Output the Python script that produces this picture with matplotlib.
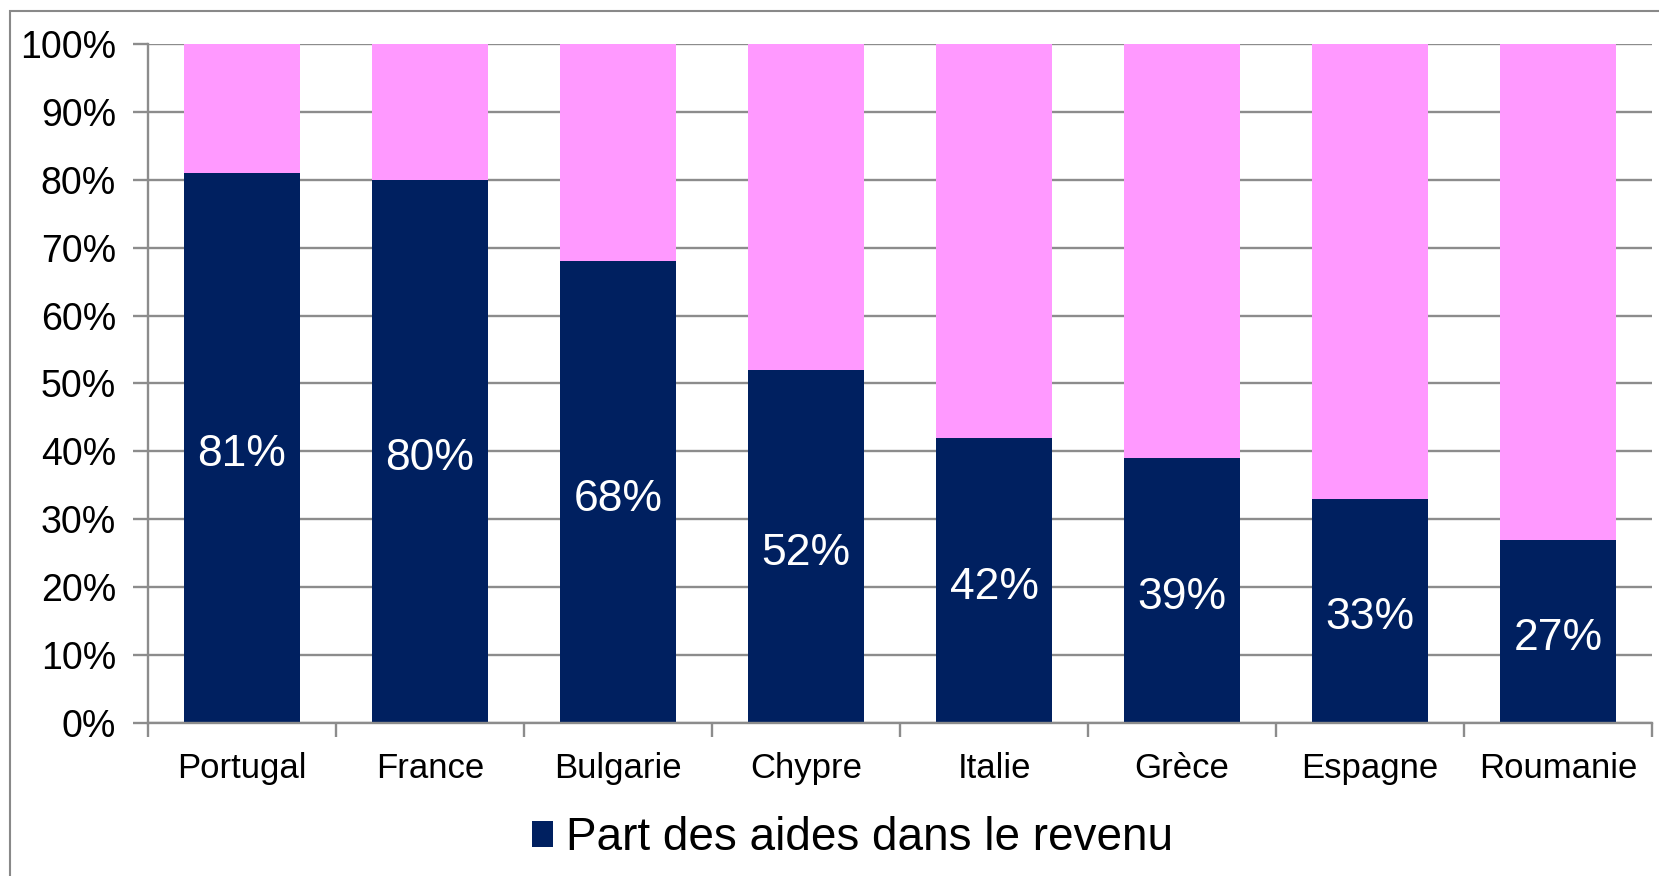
import matplotlib
matplotlib.use('Agg')
import matplotlib.pyplot as plt
from matplotlib.patches import Rectangle
import numpy as np

plt.rcParams['font.family'] = ['Liberation Sans', 'DejaVu Sans']

pays = ["Portugal", "France", "Bulgarie", "Chypre", "Italie", "Grèce", "Espagne", "Roumanie"]
part_aides = [81, 80, 68, 52, 42, 39, 33, 27]
reste = [100 - v for v in part_aides]
yticks = [0, 10, 20, 30, 40, 50, 60, 70, 80, 90, 100]

navy = '#002060'
rose = '#FF99FF'
gris = '#8c8c8c'

fig = plt.figure(figsize=(16.59, 8.76), dpi=100)
ax = fig.add_axes([0.0892, 0.1747, 0.9066, 0.7751])

# cadre gris autour du graphique
fig.patches.append(Rectangle((0.006, -0.1), 1.2, 1.0874, transform=fig.transFigure,
                             fill=False, edgecolor='#898989', linewidth=1.5))

x = np.arange(len(pays))
b1 = ax.bar(x, part_aides, width=0.615, color=navy, zorder=3,
            label="Part des aides dans le revenu")
ax.bar(x, reste, width=0.615, bottom=part_aides, color=rose, zorder=3)

for xi, v in zip(x, part_aides):
    ax.annotate(f"{v}%", (xi, v / 2), xytext=(0, -5), textcoords='offset points',
                ha='center', va='center', color='white', fontsize=32, zorder=4)

ax.set_xlim(-0.5, len(pays) - 0.5)
ax.set_ylim(0, 100)
ax.set_yticks(yticks)
ax.set_yticklabels([f"{t}%" for t in yticks], fontsize=27)
ax.yaxis.grid(True, color=gris, linewidth=1.7, zorder=0)

ax.set_xticks(np.arange(len(pays) + 1) - 0.5)
ax.set_xticklabels([])
ax.set_xticks(x, minor=True)
ax.set_xticklabels(pays, minor=True, fontsize=25)
ax.tick_params(axis='x', which='major', length=10, width=1.7, color=gris, direction='out')
ax.tick_params(axis='x', which='minor', length=0, pad=21)
ax.tick_params(axis='y', length=11, width=1.7, color=gris, pad=12)

for s in ['top', 'right']:
    ax.spines[s].set_visible(False)
for s in ['left', 'bottom']:
    ax.spines[s].set_color(gris)
    ax.spines[s].set_linewidth(1.7)
    ax.spines[s].set_zorder(5)

fig.legend(handles=[b1], loc='center', bbox_to_anchor=(0.514, 0.043),
           frameon=False, fontsize=33, handlelength=0.45, handleheight=0.5,
           handletextpad=0.3)

fig.savefig('out.png', dpi=100)
